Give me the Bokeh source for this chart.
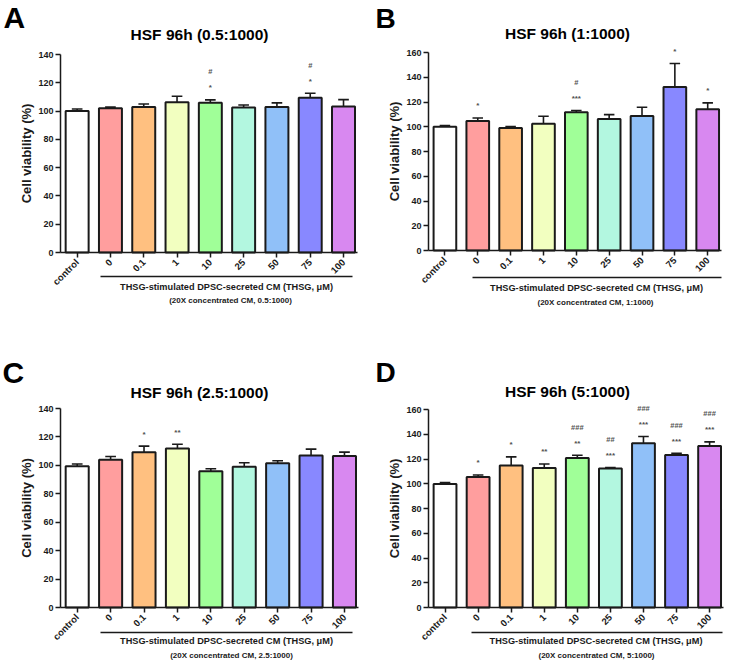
from math import pi
from bokeh.plotting import figure
from bokeh.models import ColumnDataSource, FixedTicker, Range1d
from bokeh.layouts import gridplot
from bokeh.embed import file_html
from bokeh.resources import INLINE
from bokeh.core.properties import value

categories = ["control", "0", "0.1", "1", "10", "25", "50", "75", "100"]
bar_colors = ["#FFFFFF", "#FF9E9E", "#FFC080", "#F2FFC0", "#A0FF98",
              "#B3F7E0", "#90C0F8", "#8888FF", "#D888F0"]

a_mean = [100.0, 102.0, 102.8, 106.2, 105.8, 102.5, 102.8, 109.5, 103.2]
a_err = [1.5, 0.8, 2.2, 4.3, 2.1, 1.8, 3.0, 3.1, 4.9]
a_star = ["", "", "", "", "*", "", "", "*", ""]
a_hash = ["", "", "", "", "#", "", "", "#", ""]

b_mean = [100.1, 104.7, 99.0, 102.5, 111.7, 106.3, 108.7, 132.2, 114.1]
b_err = [0.9, 2.4, 1.1, 6.0, 1.4, 3.5, 7.1, 18.9, 5.2]
b_star = ["", "*", "", "", "***", "", "", "*", "*"]
b_hash = ["", "", "", "", "#", "", "", "", ""]

c_mean = [99.4, 103.9, 109.3, 111.9, 95.9, 99.0, 101.5, 106.9, 106.5]
c_err = [1.6, 2.3, 4.2, 3.0, 1.7, 2.8, 1.7, 4.5, 2.8]
c_star = ["", "", "*", "**", "", "", "", "", ""]
c_hash = ["", "", "", "", "", "", "", "", ""]

d_mean = [99.8, 105.5, 114.7, 112.8, 120.9, 112.3, 132.8, 123.3, 130.6]
d_err = [1.1, 1.6, 7.0, 3.2, 2.1, 0.8, 5.4, 1.4, 3.2]
d_star = ["", "*", "*", "**", "**", "***", "***", "***", "***"]
d_hash = ["", "", "", "", "###", "##", "###", "###", "###"]

FONT = "Liberation Sans"
INK = "#1a1a1a"
XLO, XHI = -0.5, 8.42
W, H = 365, 331


def txt(p, x, y, t, size, align="center", color=INK):
    p.text(x=[x], y=[y], text=[t], text_align=align, text_baseline="middle",
           text_font=value(FONT), text_font_size=value(size),
           text_font_style="bold", text_color=color)


def make_panel(letter, title, ratio, ymax, mean, err, star, hsh, lay):
    L, R, T, B = lay["frame"]
    ux = (XHI - XLO) / (R - L)
    s = ymax / (B - T)
    x0 = XLO - L * ux
    x1 = XHI + (W - R) * ux
    y0 = -(H - B) * s
    y1 = ymax + T * s

    def X(px):
        return x0 + px * ux

    def Y(py):
        return y1 - py * s

    p = figure(width=W, height=H, x_range=Range1d(x0, x1),
               y_range=Range1d(y0, y1), output_backend="svg",
               toolbar_location=None, title=None,
               min_border_left=0, min_border_right=0,
               min_border_top=0, min_border_bottom=0)
    p.outline_line_color = None
    p.xgrid.visible = False
    p.ygrid.visible = False
    p.background_fill_color = "white"
    p.border_fill_color = "white"

    xs = list(range(len(categories)))
    tops = [m + e for m, e in zip(mean, err)]
    src = ColumnDataSource(dict(x=xs, mean=mean, top=tops, color=bar_colors,
                                star=star, hsh=hsh,
                                sy=[t + 12 * s for t in tops],
                                hy=[t + 28 * s for t in tops],
                                cl=[x - 0.16 for x in xs],
                                cr=[x + 0.16 for x in xs]))
    p.segment(x0="x", y0="mean", x1="x", y1="top", source=src,
              line_color=INK, line_width=1.6)
    p.segment(x0="cl", y0="top", x1="cr", y1="top", source=src,
              line_color=INK, line_width=1.6)
    p.vbar(x="x", top="mean", width=0.69, bottom=0, source=src,
           fill_color="color", line_color=INK, line_width=2)

    # axes, drawn at fixed locations inside the frame
    for ax in (p.xaxis[0], p.yaxis[0]):
        ax.axis_line_width = 1.5
        ax.axis_line_color = INK
        ax.major_tick_line_color = INK
        ax.major_tick_line_width = 1.5
        ax.major_tick_in = 0
        ax.major_tick_out = 5
        ax.minor_tick_in = 0
        ax.minor_tick_out = 0
        ax.major_label_text_font = FONT
        ax.major_label_text_font_style = "bold"
        ax.major_label_text_color = INK
    p.xaxis.fixed_location = 0
    p.xaxis.bounds = (XLO, XHI)
    p.xaxis.ticker = FixedTicker(ticks=xs)
    p.xaxis.major_label_overrides = {i: c for i, c in enumerate(categories)}
    p.xaxis.major_label_orientation = pi / 4
    p.xaxis.major_label_standoff = 3
    p.xaxis.major_label_text_font_size = "9.5px"
    p.yaxis.fixed_location = XLO
    p.yaxis.bounds = (0, ymax)
    p.yaxis.ticker = FixedTicker(ticks=list(range(0, ymax + 1, 20)))
    p.yaxis.major_label_standoff = 2
    p.yaxis.major_label_text_font_size = "9px"
    p.yaxis.axis_label = "Cell viability (%)"
    p.yaxis.axis_label_text_font = FONT
    p.yaxis.axis_label_text_font_style = "bold"
    p.yaxis.axis_label_text_font_size = "13px"
    p.yaxis.axis_label_text_color = INK
    p.yaxis.axis_label_standoff = 1

    # significance marks
    p.text(x="x", y="sy", text="star", source=src, text_align="center",
           text_baseline="middle", text_font=value(FONT),
           text_font_size=value("8px"), text_font_style="bold",
           text_color="#505050")
    p.text(x="x", y="hy", text="hsh", source=src, text_align="center",
           text_baseline="middle", text_font=value(FONT),
           text_font_size=value("7.5px"), text_font_style="bold",
           text_color="#505050")

    # panel letter and title
    lx, ly, lsize = lay["letter"]
    txt(p, X(lx), Y(ly), letter, lsize, align="left", color="black")
    tx, ty = lay["title"]
    txt(p, X(tx), Y(ty), title, "15.5px", color="black")

    # bracket under the treated groups and its captions
    by, bx0, bx1 = lay["bracket"]
    p.segment(x0=[X(bx0)], y0=[Y(by)], x1=[X(bx1)], y1=[Y(by)],
              line_color=INK, line_width=1.3)
    mx, my = lay["main"]
    txt(p, X(mx), Y(my), "THSG-stimulated DPSC-secreted CM (THSG, \u03bcM)",
        "9.2px")
    sx, sy = lay["sub"]
    txt(p, X(sx), Y(sy), "(20X concentrated CM, %s)" % ratio, "8px")
    return p


lay_a = dict(frame=(60, 357, 54, 252), letter=(3, 17, "30px"),
             title=(199, 34), bracket=(276, 100, 352), main=(226, 286),
             sub=(230, 300))
lay_b = dict(frame=(63, 356, 52, 250), letter=(10, 18, "28px"),
             title=(202, 33), bracket=(277, 107, 356), main=(231, 287),
             sub=(230, 301.5))
lay_c = dict(frame=(60, 358, 77, 276), letter=(2, 41, "30px"),
             title=(199, 60.5), bracket=(301, 100, 352), main=(226, 309.5),
             sub=(231, 324))
lay_d = dict(frame=(63, 358, 78, 276), letter=(10, 41, "28px"),
             title=(202, 59.5), bracket=(301, 106, 357), main=(230.5, 309),
             sub=(231, 324))

pa = make_panel("A", "HSF 96h (0.5:1000)", "0.5:1000", 140, a_mean, a_err,
                a_star, a_hash, lay_a)
pb = make_panel("B", "HSF 96h (1:1000)", "1:1000", 160, b_mean, b_err,
                b_star, b_hash, lay_b)
pc = make_panel("C", "HSF 96h (2.5:1000)", "2.5:1000", 140, c_mean, c_err,
                c_star, c_hash, lay_c)
pd = make_panel("D", "HSF 96h (5:1000)", "5:1000", 160, d_mean, d_err,
                d_star, d_hash, lay_d)

grid = gridplot([[pa, pb], [pc, pd]], toolbar_location=None)
open("out.html", "w").write(file_html(grid, INLINE))
